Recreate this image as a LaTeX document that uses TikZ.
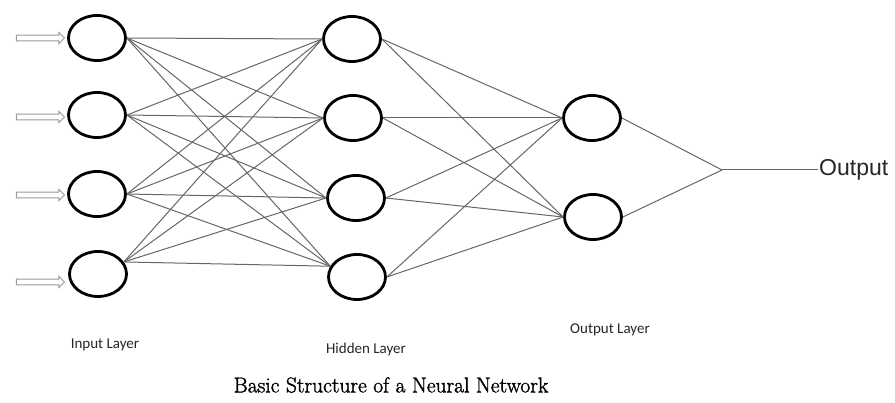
\documentclass[tikz,border=0pt]{standalone}
\usepackage{fontspec}
\setmainfont{Latin Modern Roman}
\newfontfamily\labelfont{Carlito}
\newfontfamily\outfont{Liberation Sans}
\newfontfamily\capfont[FakeBold=1.5]{Latin Modern Roman}
\usetikzlibrary{shapes.geometric,shapes.arrows}
\begin{document}
\begin{tikzpicture}[x=1pt,y=-1pt,
  neuron/.style={ellipse,draw=black,line width=2.8pt,minimum width=57pt,minimum height=45pt,inner sep=0pt},
  inarrow/.style={single arrow,draw=gray!80,fill=white,line width=0.9pt,minimum height=48pt,minimum width=11pt,single arrow head extend=2.5pt,inner xsep=0pt,inner ysep=2.2pt},
  link/.style={draw=black!60,line width=1pt},
  layerlabel/.style={font=\labelfont\fontsize{15}{17}\selectfont,text=black!85,inner sep=0pt}]
\useasboundingbox (0,0) rectangle (895,403);
% input layer
\node[neuron] (in1) at (97,38) {};
\node[neuron] (in2) at (97,115) {};
\node[neuron] (in3) at (97,194) {};
\node[neuron] (in4) at (98,274) {};
% hidden layer
\node[neuron] (h1) at (352,39) {};
\node[neuron] (h2) at (353,118) {};
\node[neuron] (h3) at (356,198) {};
\node[neuron] (h4) at (357,277) {};
% output layer
\node[neuron] (o1) at (592,118) {};
\node[neuron] (o2) at (593,217) {};
% input arrows
\node[inarrow] (a1) at (39,38) {};
\node[inarrow] (a2) at (39,117) {};
\node[inarrow] (a3) at (39,195) {};
\node[inarrow] (a4) at (39,282) {};
% connections input -> hidden
\foreach \i in {1,2,3}{
  \foreach \j in {1,2,3}{\draw[link] (in\i.east) -- (h\j.west);}
  \draw[link] (in\i.east) -- (h4.158);
}
\foreach \j in {1,2,3}{\draw[link] (in4.25) -- (h\j.west);}
\draw[link] (in4.25) -- (h4.158);
% connections hidden -> output
\foreach \i in {1,2,3,4}{
  \draw[link] (h\i.east) -- (o1.west);
  \draw[link] (h\i.east) -- (o2.west);
}
% output merge
\coordinate (m) at (722,170);
\node[font=\outfont\fontsize{23}{26}\selectfont,text=black!85,anchor=west,inner sep=1pt] (out) at (818,170) {Output};
\draw[link] (o1.east) -- (m);
\draw[link] (o2.east) -- (m);
\draw[link] (m) -- (out.west);
% labels
\node[layerlabel] (l1) at (105,345) {Input Layer};
\node[layerlabel] (l2) at (366,350) {Hidden Layer};
\node[layerlabel] (l3) at (610,330) {Output Layer};
\node[font=\capfont\fontsize{21.5}{24}\selectfont,inner sep=0pt] (cap) at (391,385) {Basic Structure of a Neural Network};
\end{tikzpicture}
\end{document}
